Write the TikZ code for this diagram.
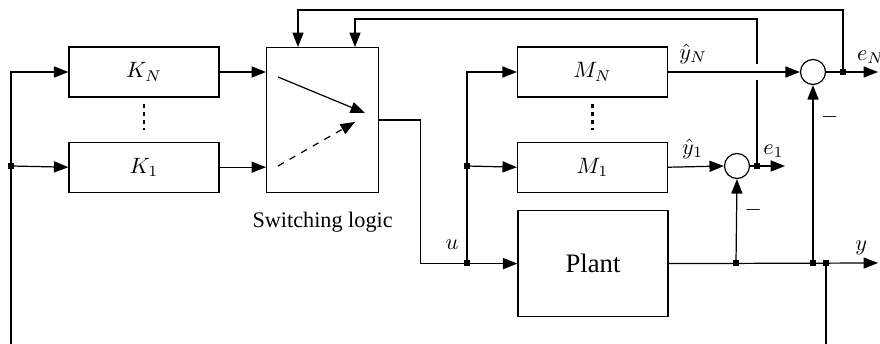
\documentclass[tikz,border=0pt]{standalone}
\usepackage{fontspec}
\setmainfont{Liberation Serif}
\usetikzlibrary{calc}
\usetikzlibrary{arrows.meta}
\usetikzlibrary{positioning}

\begin{document}
\begin{tikzpicture}[x=0.45pt, y=-0.45pt, line width=0.55pt,
  block/.style={draw, minimum width=67.5pt, minimum height=22.5pt, inner sep=0pt},
  sumnode/.style={draw, circle, minimum size=11.25pt, inner sep=0pt},
  jdot/.style={fill, rectangle, minimum size=2.4pt, inner sep=0pt},
  sig/.style={-{Triangle[length=6.5pt,width=5pt]}},
  vdots/.style={line width=1pt, dash pattern=on 2pt off 1.6pt, shorten <=2.7pt, shorten >=5pt}]

\useasboundingbox (0,0) rectangle (880,344);

% controllers
\node[block] (kN) at (144,72) {$K_N$};
\node[block, below=19.8pt of kN] (k1) {$K_1$};
\draw[vdots] (kN.south) -- (k1.north);

% switching logic
\node[draw, minimum width=50.4pt, minimum height=65.25pt, anchor=north west] (sw) at (266,47) {};
\node[below=5pt of sw] (swl) {Switching logic};

% models and plant
\node[block] (mN) at (592.5,72) {$M_N$};
\node[block, below=19.8pt of mN] (m1) {$M_1$};
\draw[vdots] (mN.south) -- (m1.north);
\node[block, minimum height=47.7pt, anchor=north] (plant) at (593,210) {\large Plant};

% summing junctions
\node[sumnode] (sN) at (813,72) {};
\node[sumnode] (s1) at (737,166) {};

% branch points
\node[jdot] (jk) at (11,166) {};
\node[jdot] (ju1) at (467,166) {};
\node[jdot] (ju2) at (467,263) {};
\node[jdot] (je1) at (757,166) {};
\node[jdot] (jeN) at (843,72) {};
\node[jdot] (jy1) at (736,263) {};
\node[jdot] (jyN) at (813,263) {};
\node[jdot] (jy2) at (826,263) {};

% free ends
\coordinate (fbL) at (11,344);
\coordinate (fbR) at (826,344);
\coordinate (eNout) at (878,72);
\coordinate (e1out) at (785,166);
\coordinate (yout) at (878,263);

\draw[sig] (fbL) |- (kN.west);
\draw[sig] (jk.center) -- (k1.west);
\draw[sig] (kN.east) -- (sw.west |- kN.east);
\draw[sig] (k1.east) -- (sw.west |- k1.east);

% switch symbol
\draw[sig] ($(sw.north west)+(12,30)$) -- ($(sw.north west)+(99,66)$);
\draw[sig, dashed] ($(sw.north west)+(12,119)$) -- ($(sw.north west)+(89,75)$);

% control signal
\draw[sig] (sw.east) -- ++(41,0) |- (plant.west);
\node at (452,245) {$u$};
\draw[sig] (ju2.center) |- (mN.west);
\draw[sig] (ju1.center) -- (m1.west);

% outputs and errors
\draw[sig] (mN.east) -- (sN.west) node[pos=0.19, above] {$\hat y_N$};
\draw[sig] (m1.east) -- (s1.west) node[pos=0.44, above] {$\hat y_1$};
\draw[sig] (plant.east) -- (yout) node[pos=0.92, above] {$y$};
\draw[sig] (sN.east) -- (eNout) node[pos=0.86, above] {$e_N$};
\draw[sig] (s1.east) -- (e1out) node[pos=0.67, above] {$e_1$};
\draw[sig] (jy1.center) -- (s1.south) node[pos=0.63, right] {$-$};
\draw[sig] (jyN.center) -- (sN.south) node[pos=0.82, right] {$-$};
\draw (jy2.center) -- (fbR);

% feedback to switching logic
\coordinate (swa) at ($(sw.north west)+(32,0)$);
\coordinate (swb) at ($(sw.north west)+(89,0)$);
\draw[sig] (jeN.center) |- ($(swa)+(0,-37)$) -- (swa);
\draw (je1.center) -- ($(je1 |- mN)+(0,8)$);
\draw[sig] ($(je1 |- mN)+(0,-8)$) |- ($(swb)+(0,-28)$) -- (swb);
\end{tikzpicture}
\end{document}
